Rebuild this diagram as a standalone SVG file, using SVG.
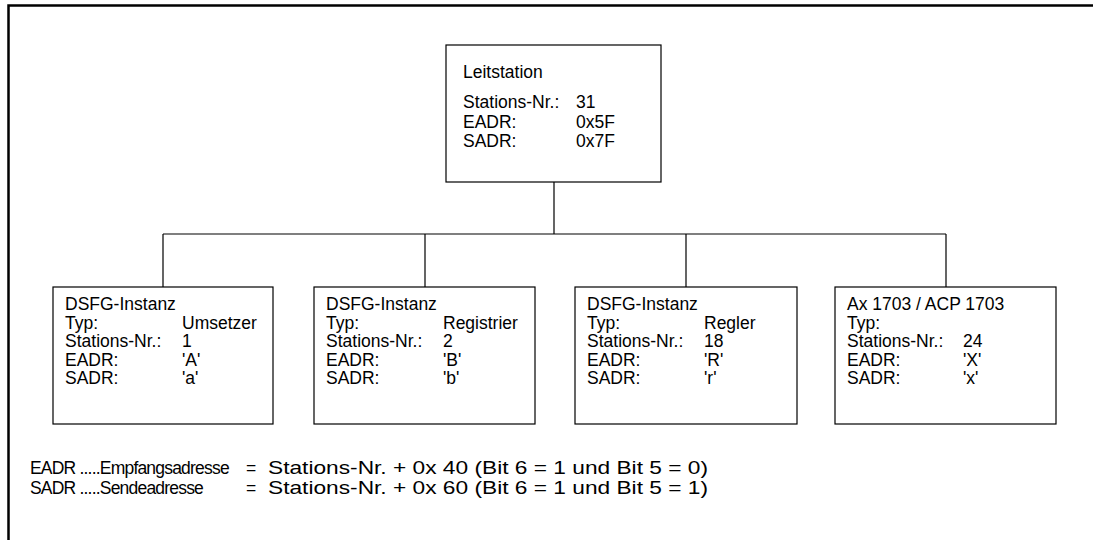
<svg xmlns="http://www.w3.org/2000/svg" width="1093" height="540" viewBox="0 0 1093 540">
<style>
text{font-family:"Liberation Sans",Arial,sans-serif;font-size:17.5px;fill:#000}
.box{fill:#fff;stroke:#000;stroke-width:1.2}
.con{stroke:#000;stroke-width:1.2;fill:none}
.l1{letter-spacing:-0.8px}
.l2{font-size:19px}
</style>
<rect width="1093" height="540" fill="#fff"/>
<path d="M8.5,540 V5.5 H1093" fill="none" stroke="#000" stroke-width="2.5"/>
<g id="connectors">
<path class="con" d="M554,182 V234 M163,234 H946 M163,234 V287 M425,234 V287 M686,234 V287 M946,234 V287"/>
</g>
<g id="leitstation">
<rect class="box" x="446" y="45" width="215" height="137"/>
<text x="463" y="78">Leitstation</text>
<text x="463" y="108">Stations-Nr.:</text><text x="576" y="108">31</text>
<text x="463" y="127.5">EADR:</text><text x="576" y="127.5">0x5F</text>
<text x="463" y="147">SADR:</text><text x="576" y="147">0x7F</text>
</g>
<g id="dsfg1">
<rect class="box" x="53" y="287" width="220" height="137"/>
<text x="65" y="310">DSFG-Instanz</text>
<text x="65" y="328.5">Typ:</text><text x="182" y="328.5">Umsetzer</text>
<text x="65" y="347">Stations-Nr.:</text><text x="182" y="347">1</text>
<text x="65" y="365.5">EADR:</text><text x="182" y="365.5">'A'</text>
<text x="65" y="384">SADR:</text><text x="182" y="384">'a'</text>
</g>
<g id="dsfg2">
<rect class="box" x="314" y="287" width="221" height="137"/>
<text x="326" y="310">DSFG-Instanz</text>
<text x="326" y="328.5">Typ:</text><text x="443" y="328.5">Registrier</text>
<text x="326" y="347">Stations-Nr.:</text><text x="443" y="347">2</text>
<text x="326" y="365.5">EADR:</text><text x="443" y="365.5">'B'</text>
<text x="326" y="384">SADR:</text><text x="443" y="384">'b'</text>
</g>
<g id="dsfg3">
<rect class="box" x="575" y="287" width="222" height="137"/>
<text x="587" y="310">DSFG-Instanz</text>
<text x="587" y="328.5">Typ:</text><text x="704" y="328.5">Regler</text>
<text x="587" y="347">Stations-Nr.:</text><text x="704" y="347">18</text>
<text x="587" y="365.5">EADR:</text><text x="704" y="365.5">'R'</text>
<text x="587" y="384">SADR:</text><text x="704" y="384">'r'</text>
</g>
<g id="ax1703">
<rect class="box" x="835" y="287" width="221" height="137"/>
<text x="847" y="310">Ax 1703 / ACP 1703</text>
<text x="847" y="328.5">Typ:</text>
<text x="847" y="347">Stations-Nr.:</text><text x="963" y="347">24</text>
<text x="847" y="365.5">EADR:</text><text x="963" y="365.5">'X'</text>
<text x="847" y="384">SADR:</text><text x="963" y="384">'x'</text>
</g>
<g id="legend">
<text class="l1" x="30" y="474">EADR .....Empfangsadresse</text>
<text x="246" y="474">=</text>
<text class="l2" x="268" y="474" textLength="440" lengthAdjust="spacingAndGlyphs">Stations-Nr. + 0x 40 (Bit 6 = 1 und Bit 5 = 0)</text>
<text class="l1" x="30" y="494">SADR .....Sendeadresse</text>
<text x="246" y="494">=</text>
<text class="l2" x="268" y="494" textLength="440" lengthAdjust="spacingAndGlyphs">Stations-Nr. + 0x 60 (Bit 6 = 1 und Bit 5 = 1)</text>
</g>
</svg>
